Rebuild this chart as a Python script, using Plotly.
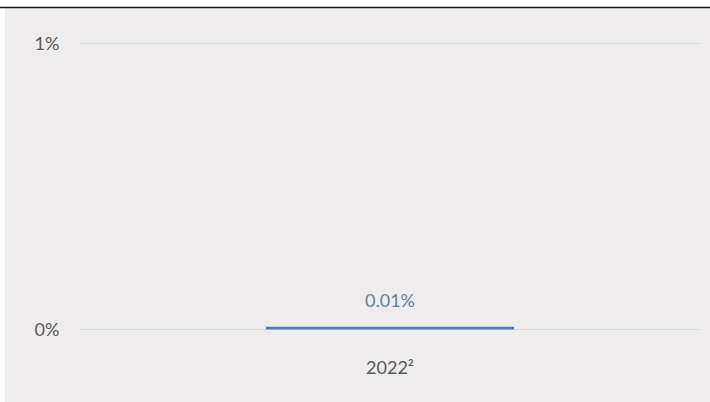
import plotly.graph_objects as go

categories = ["2022²"]
values = [0.01]
value_labels = ["0.01%"]
y_ticks = [0, 1]
y_tick_labels = ["0%", "1%"]

W, H = 710, 402
L, R, T, B = 80, 10, 42, 71
pw, ph = W - L - R, H - T - B
pad = 0.005  # small range padding so edge gridlines are drawn

def px_x(p):
    return (p - L) / pw

def px_y(p):
    return (H - B - p) / ph

bg = "#eeecec"
font = "Lato, Open Sans, sans-serif"

fig = go.Figure()
fig.add_trace(go.Bar(
    x=categories, y=values, width=0.4,
    marker=dict(color="#4a7ebb", line=dict(width=0)),
    hoverinfo="skip",
))
for c, v, t in zip(categories, values, value_labels):
    fig.add_annotation(x=c, y=v, text=t, showarrow=False, yanchor="bottom",
                       yshift=14, font=dict(family=font, size=18, color="#5f839f"))

fig.update_layout(
    width=W, height=H,
    margin=dict(l=L, r=R, t=T, b=B, pad=0),
    paper_bgcolor=bg, plot_bgcolor=bg,
    showlegend=False,
    font=dict(family=font, size=18, color="#595959"),
    xaxis=dict(showgrid=False, zeroline=False, showline=False,
               ticks="outside", ticklen=20, tickcolor="rgba(0,0,0,0)",
               tickfont=dict(family=font, size=18, color="#595959")),
    yaxis=dict(range=[-pad, 1 + pad], tickvals=y_ticks, ticktext=y_tick_labels,
               showgrid=True, gridcolor="#d9d9d9", gridwidth=1,
               zeroline=False, showline=False,
               ticks="outside", ticklen=16, tickcolor="rgba(0,0,0,0)",
               tickfont=dict(family=font, size=18, color="#595959")),
    shapes=[
        dict(type="rect", xref="paper", yref="paper", x0=px_x(0), x1=px_x(W),
             y0=px_y(7), y1=px_y(0), fillcolor="white", line=dict(width=0), layer="below"),
        dict(type="rect", xref="paper", yref="paper", x0=px_x(0), x1=px_x(5),
             y0=px_y(H), y1=px_y(0), fillcolor="white", line=dict(width=0), layer="below"),
        dict(type="line", xref="paper", yref="paper", x0=px_x(0), x1=px_x(W),
             y0=px_y(7.5), y1=px_y(7.5), line=dict(color="#1a1a1a", width=1.5)),
    ],
)

fig.write_html("out.html", config={"displayModeBar": False},
               post_script="document.body.style.margin='0';")
